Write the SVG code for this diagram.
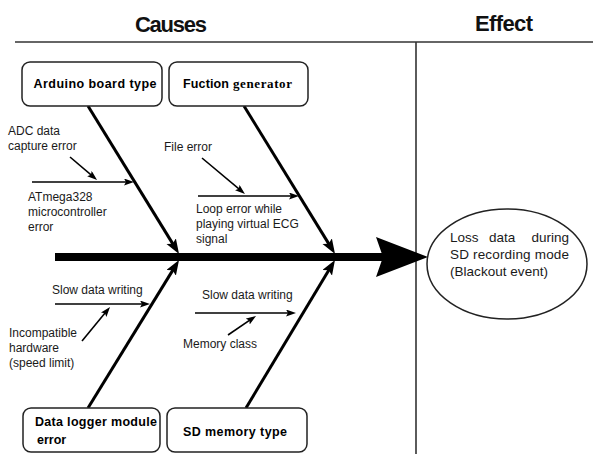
<svg xmlns="http://www.w3.org/2000/svg" width="593" height="454" viewBox="0 0 593 454">
<style>
.t{font-family:"Liberation Sans",Arial,sans-serif;font-size:12px;fill:#1a1a1a}
.e{font-family:"Liberation Sans",Arial,sans-serif;font-size:13.5px;fill:#1a1a1a}
.b{font-family:"Liberation Sans",Arial,sans-serif;font-size:12.5px;font-weight:bold;fill:#000}
.h{font-family:"Liberation Sans",Arial,sans-serif;font-size:22px;font-weight:bold;fill:#111}
.box{fill:#fff;stroke:#222;stroke-width:1.5}
.bone{stroke:#000;stroke-width:3;fill:none}
.sub{stroke:#000;stroke-width:1.6;fill:none}
.frame{stroke:#333;stroke-width:1.6;fill:none}
</style>
<defs>
<marker id="ah" markerUnits="userSpaceOnUse" markerWidth="16" markerHeight="12" refX="9" refY="5.5" orient="auto"><path d="M0,0 L15,5.5 L0,11 L3,5.5z" fill="#000"/></marker>
<marker id="sa" markerUnits="userSpaceOnUse" markerWidth="11" markerHeight="8" refX="6" refY="3.5" orient="auto"><path d="M0,0 L10,3.5 L0,7 L2,3.5z" fill="#000"/></marker>
</defs>
<rect width="593" height="454" fill="#fff"/>
<g id="headers">
<text class="h" x="171" y="32" text-anchor="middle" textLength="72">Causes</text>
<text class="h" x="504" y="31" text-anchor="middle" textLength="58">Effect</text>
<line class="frame" x1="15" y1="42" x2="593" y2="42"/>
<line class="frame" x1="416" y1="42" x2="416" y2="454"/>
</g>
<g id="connectors">
<line x1="55" y1="257" x2="386" y2="257" stroke="#000" stroke-width="8"/>
<polygon points="376,237 428,257 376,277 383,257" fill="#000"/>
<line class="bone" x1="88" y1="106" x2="175.9" y2="248.9" marker-end="url(#ah)"/>
<line class="bone" x1="244" y1="106" x2="331.9" y2="248.9" marker-end="url(#ah)"/>
<line class="bone" x1="88" y1="408" x2="175.9" y2="265.1" marker-end="url(#ah)"/>
<line class="bone" x1="246" y1="408" x2="331.9" y2="265.1" marker-end="url(#ah)"/>
<line class="sub" x1="32" y1="182" x2="130" y2="182" marker-end="url(#sa)"/>
<line class="sub" x1="70" y1="157" x2="94" y2="177.4" marker-end="url(#sa)"/>
<line class="sub" x1="198" y1="196" x2="295" y2="196" marker-end="url(#sa)"/>
<line class="sub" x1="202" y1="158" x2="241.9" y2="191.4" marker-end="url(#sa)"/>
<line class="sub" x1="55" y1="304" x2="146" y2="304" marker-end="url(#sa)"/>
<line class="sub" x1="82" y1="341" x2="107.5" y2="310.1" marker-end="url(#sa)"/>
<line class="sub" x1="195" y1="313" x2="292" y2="313" marker-end="url(#sa)"/>
<line class="sub" x1="228" y1="335" x2="252.7" y2="318.2" marker-end="url(#sa)"/>
</g>
<g id="arduino">
<rect class="box" x="22" y="62" width="140" height="44" rx="8"/>
<text class="b" x="95" y="88" text-anchor="middle" textLength="123">Arduino board type</text>
</g>
<g id="fuction">
<rect class="box" x="169" y="62" width="139" height="44" rx="8"/>
<text x="183" y="88" class="b" textLength="46">Fuction</text>
<text x="233" y="88" font-family="'Liberation Serif','Times New Roman',serif" font-size="13px" font-weight="bold" fill="#000" textLength="59">generator</text>
</g>
<g id="datalogger">
<rect class="box" x="23" y="408" width="137" height="44" rx="8"/>
<text class="b" x="35" y="426" textLength="122">Data logger module</text>
<text class="b" x="37" y="444">error</text>
</g>
<g id="sdmemory">
<rect class="box" x="167" y="408" width="140" height="44" rx="8"/>
<text class="b" x="183" y="436" textLength="104">SD memory type</text>
</g>
<g id="effect">
<ellipse cx="507" cy="264" rx="80" ry="55" fill="#fff" stroke="#222" stroke-width="1.5"/>
<text class="e" x="450" y="242">Loss</text>
<text class="e" x="489" y="242">data</text>
<text class="e" x="569" y="242" text-anchor="end">during</text>
<text class="e" x="450" y="259" textLength="119">SD recording mode</text>
<text class="e" x="450" y="276" textLength="98">(Blackout event)</text>
</g>
<g id="labels">
<text class="t" x="8" y="135">ADC data</text>
<text class="t" x="8" y="150">capture error</text>
<text class="t" x="28" y="201">ATmega328</text>
<text class="t" x="28" y="216">microcontroller</text>
<text class="t" x="28" y="231">error</text>
<text class="t" x="164" y="151">File error</text>
<text class="t" x="196" y="213">Loop error while</text>
<text class="t" x="196" y="228">playing virtual ECG</text>
<text class="t" x="196" y="243">signal</text>
<text class="t" x="52" y="294">Slow data writing</text>
<text class="t" x="9" y="337">Incompatible</text>
<text class="t" x="9" y="352">hardware</text>
<text class="t" x="9" y="367">(speed limit)</text>
<text class="t" x="202" y="299">Slow data writing</text>
<text class="t" x="183" y="348">Memory class</text>
</g>
</svg>
